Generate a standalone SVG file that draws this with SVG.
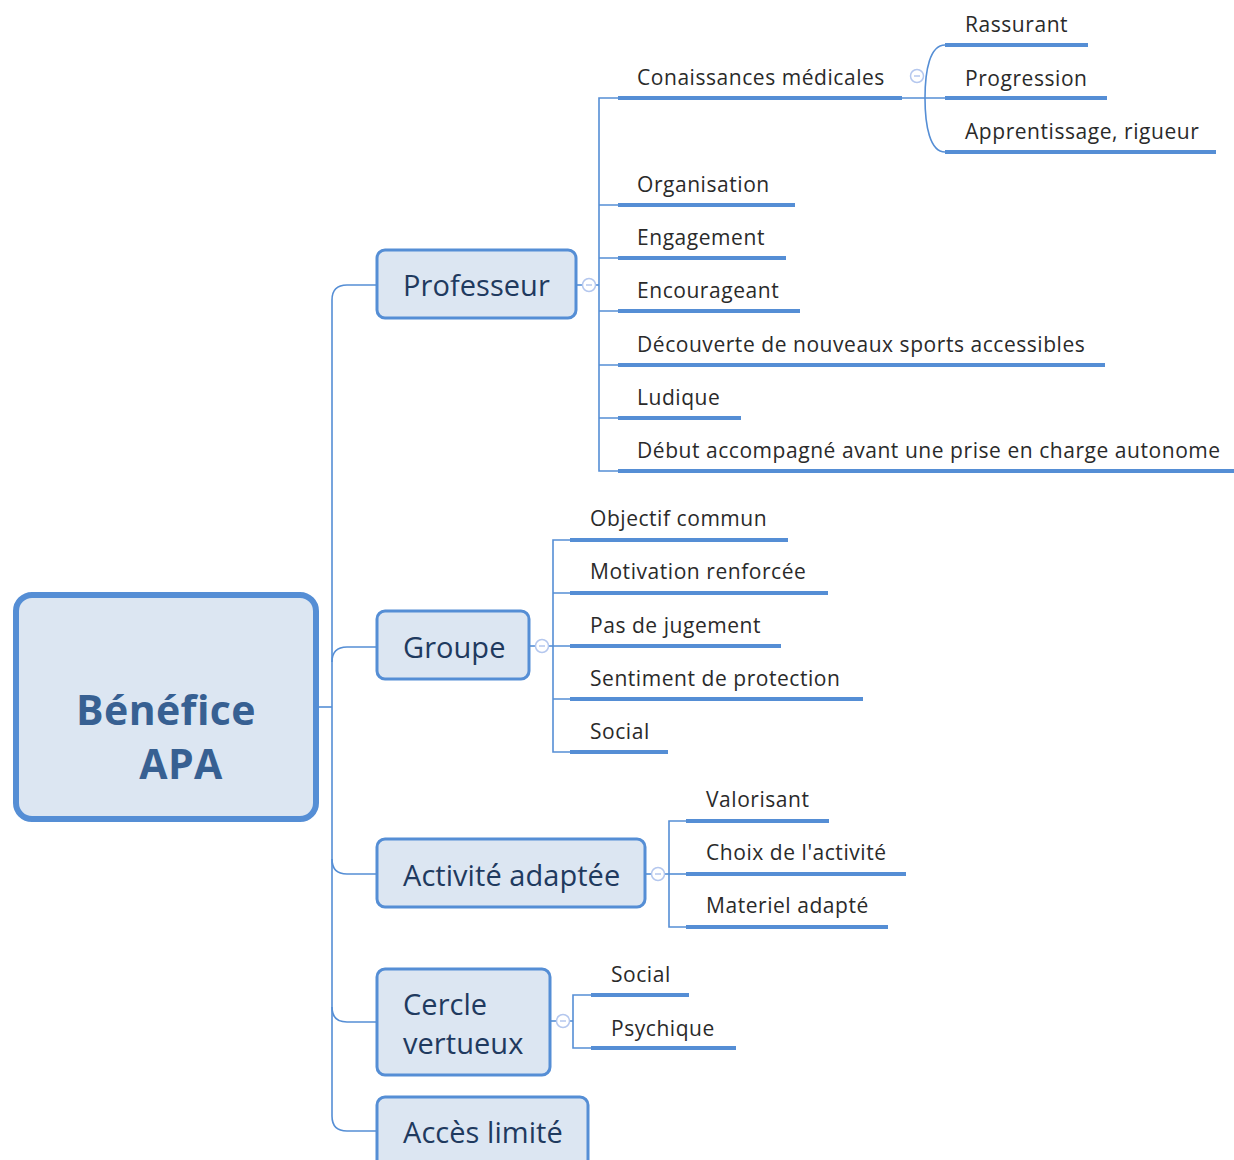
<svg xmlns="http://www.w3.org/2000/svg" width="1234" height="1160" viewBox="0 0 1234 1160">
<style>
.bg{fill:#ffffff}
.root{fill:#dce6f2;stroke:#558ed5;stroke-width:6}
.node{fill:#dce6f2;stroke:#558ed5;stroke-width:3}
.rt{font-family:"Open Sans","Noto Sans",sans-serif;font-weight:bold;font-size:41px;letter-spacing:0.4px;fill:#376092}
.nt{font-family:"Open Sans","Noto Sans",sans-serif;font-size:29px;letter-spacing:0.05px;fill:#1f3a5f}
.lt{font-family:"Open Sans","Noto Sans",sans-serif;font-size:21px;letter-spacing:0.55px;fill:#2a2a2a}
.ul{stroke:#558ed5;stroke-width:4;fill:none}
.cn{stroke:#558ed5;stroke-width:1.6;fill:none}
.col{fill:#ffffff;stroke:#b4c7ee;stroke-width:1.5}
.colm{stroke:#b4c7ee;stroke-width:1.5}
</style>
<rect class="bg" x="0" y="0" width="1234" height="1160"/>
<g id="connectors">
  <path class="cn" d="M319,707 H332"/>
  <path class="cn" d="M377,285 H347 Q332,285 332,300 V1116 Q332,1131 347,1131 H377"/>
  <path class="cn" d="M377,647 H347 Q332,647 332,662"/>
  <path class="cn" d="M332,859 Q332,874 347,874 H377"/>
  <path class="cn" d="M332,1007 Q332,1022 347,1022 H377"/>
  <path class="cn" d="M576,285 H599"/>
  <path class="cn" d="M618,98 H599 V471 H618"/>
  <path class="cn" d="M599,205 H618 M599,258 H618 M599,311 H618 M599,365 H618 M599,418 H618"/>
  <path class="cn" d="M902,98 H945"/>
  <path class="cn" d="M945,45 C930,45 925,70 925,98 C925,126 930,152 945,152"/>
  <path class="cn" d="M529,646 H553"/>
  <path class="cn" d="M570,540 H553 V752 H570"/>
  <path class="cn" d="M553,593 H570 M553,646 H570 M553,699 H570"/>
  <path class="cn" d="M645,874 H669"/>
  <path class="cn" d="M686,821 H669 V927 H686"/>
  <path class="cn" d="M669,874 H686"/>
  <path class="cn" d="M550,1021 H573"/>
  <path class="cn" d="M591,995 H573 V1048 H591"/>
</g>
<g id="root">
  <rect class="root" x="16" y="595" width="300" height="224" rx="16"/>
  <text class="rt" x="166" y="725" text-anchor="middle">Bénéfice</text>
  <text class="rt" x="181" y="779" text-anchor="middle">APA</text>
</g>
<g id="professeur">
  <rect class="node" x="377" y="250" width="199" height="68" rx="8"/>
  <text class="nt" x="403" y="296">Professeur</text>
  <circle class="col" cx="589" cy="285" r="6.5"/><path class="colm" d="M586,285 H592"/>
</g>
<g id="groupe">
  <rect class="node" x="377" y="611" width="152" height="68" rx="8"/>
  <text class="nt" x="403" y="658">Groupe</text>
  <circle class="col" cx="542" cy="646" r="6.5"/><path class="colm" d="M539,646 H545"/>
</g>
<g id="activite">
  <rect class="node" x="377" y="839" width="268" height="68" rx="8"/>
  <text class="nt" x="403" y="886">Activité adaptée</text>
  <circle class="col" cx="658" cy="874" r="6.5"/><path class="colm" d="M655,874 H661"/>
</g>
<g id="cercle">
  <rect class="node" x="377" y="969" width="173" height="106" rx="8"/>
  <text class="nt" x="403" y="1015">Cercle</text>
  <text class="nt" x="403" y="1054">vertueux</text>
  <circle class="col" cx="563" cy="1021" r="6.5"/><path class="colm" d="M560,1021 H566"/>
</g>
<g id="acces">
  <rect class="node" x="377" y="1097" width="211" height="80" rx="8"/>
  <text class="nt" x="403" y="1143">Accès limité</text>
</g>
<g id="conaissances">
  <path class="ul" d="M618,98 H902"/>
  <text class="lt" x="637" y="85">Conaissances médicales</text>
  <circle class="col" cx="917" cy="76" r="6.5"/><path class="colm" d="M914,76 H920"/>
</g>
<g id="rassurant"><path class="ul" d="M945,45 H1088"/><text class="lt" x="965" y="32">Rassurant</text></g>
<g id="progression"><path class="ul" d="M945,98 H1107"/><text class="lt" x="965" y="86">Progression</text></g>
<g id="apprentissage"><path class="ul" d="M945,152 H1216"/><text class="lt" x="965" y="139">Apprentissage, rigueur</text></g>
<g id="organisation"><path class="ul" d="M618,205 H795"/><text class="lt" x="637" y="192">Organisation</text></g>
<g id="engagement"><path class="ul" d="M618,258 H786"/><text class="lt" x="637" y="245">Engagement</text></g>
<g id="encourageant"><path class="ul" d="M618,311 H800"/><text class="lt" x="637" y="298">Encourageant</text></g>
<g id="decouverte"><path class="ul" d="M618,365 H1105"/><text class="lt" x="637" y="352">Découverte de nouveaux sports accessibles</text></g>
<g id="ludique"><path class="ul" d="M618,418 H741"/><text class="lt" x="637" y="405">Ludique</text></g>
<g id="debut"><path class="ul" d="M618,471 H1234"/><text class="lt" x="637" y="458">Début accompagné avant une prise en charge autonome</text></g>
<g id="objectif"><path class="ul" d="M570,540 H788"/><text class="lt" x="590" y="526">Objectif commun</text></g>
<g id="motivation"><path class="ul" d="M570,593 H828"/><text class="lt" x="590" y="579">Motivation renforcée</text></g>
<g id="jugement"><path class="ul" d="M570,646 H781"/><text class="lt" x="590" y="633">Pas de jugement</text></g>
<g id="sentiment"><path class="ul" d="M570,699 H863"/><text class="lt" x="590" y="686">Sentiment de protection</text></g>
<g id="social1"><path class="ul" d="M570,752 H668"/><text class="lt" x="590" y="739">Social</text></g>
<g id="valorisant"><path class="ul" d="M686,821 H829"/><text class="lt" x="706" y="807">Valorisant</text></g>
<g id="choix"><path class="ul" d="M686,874 H906"/><text class="lt" x="706" y="860">Choix de l'activité</text></g>
<g id="materiel"><path class="ul" d="M686,927 H888"/><text class="lt" x="706" y="913">Materiel adapté</text></g>
<g id="social2"><path class="ul" d="M591,995 H689"/><text class="lt" x="611" y="982">Social</text></g>
<g id="psychique"><path class="ul" d="M591,1048 H736"/><text class="lt" x="611" y="1036">Psychique</text></g>
</svg>
